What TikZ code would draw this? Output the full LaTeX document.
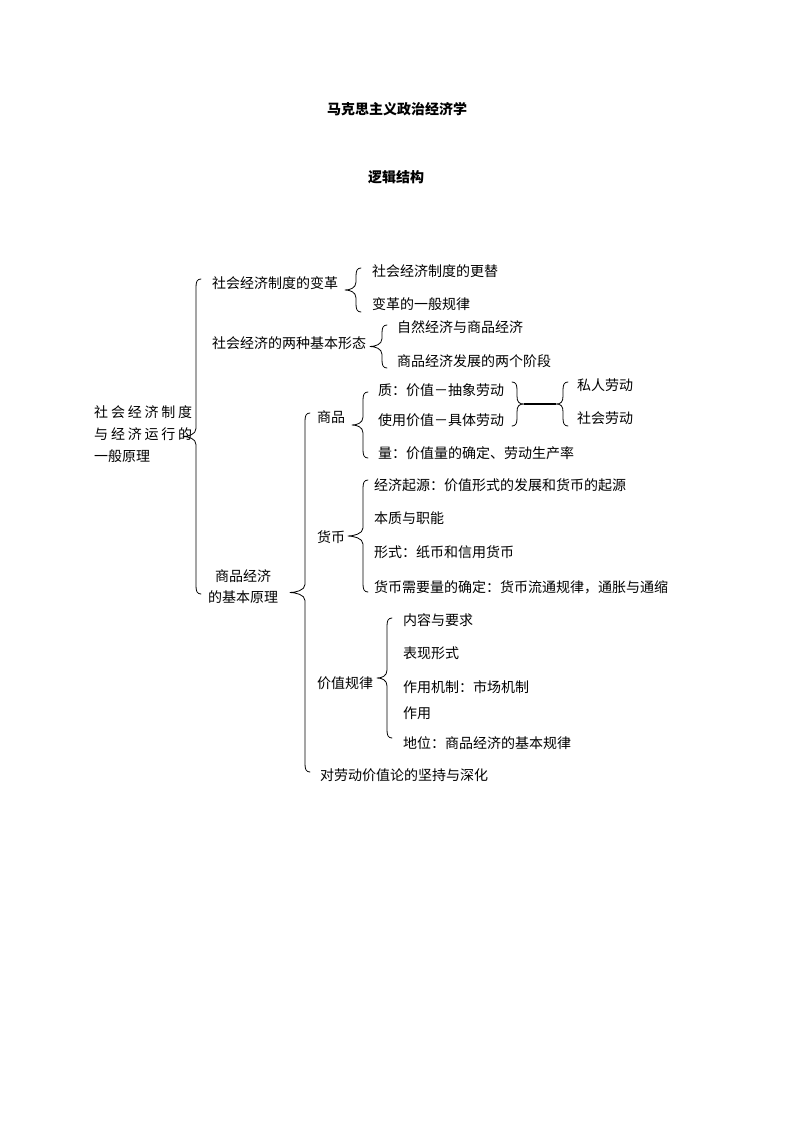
\documentclass[tikz,border=0pt]{standalone}
\usepackage{fontspec}
\setmainfont{Noto Sans CJK SC}
\newcommand\lbr[4]{% x, top, bottom, amplitude : left brace, tip pointing left
  \draw[bracestyle] (#1+5,#2) .. controls (#1+1,#2) and (#1,#2+3) .. (#1,#2+8) -- (#1,{(#2+#3)/2-8})
    .. controls (#1,{(#2+#3)/2-2}) and (#1-#4+5,{(#2+#3)/2}) .. (#1-#4,{(#2+#3)/2})
    .. controls (#1-#4+5,{(#2+#3)/2}) and (#1,{(#2+#3)/2+2}) .. (#1,{(#2+#3)/2+8}) -- (#1,#3-8)
    .. controls (#1,#3-3) and (#1+1,#3) .. (#1+5,#3);}
\newcommand\rbr[4]{% x, top, bottom, amplitude : right brace, tip pointing right
  \draw[bracestyle] (#1-5,#2) .. controls (#1-1,#2) and (#1,#2+3) .. (#1,#2+8) -- (#1,{(#2+#3)/2-8})
    .. controls (#1,{(#2+#3)/2-2}) and (#1+#4-5,{(#2+#3)/2}) .. (#1+#4,{(#2+#3)/2})
    .. controls (#1+#4-5,{(#2+#3)/2}) and (#1,{(#2+#3)/2+2}) .. (#1,{(#2+#3)/2+8}) -- (#1,#3-8)
    .. controls (#1,#3-3) and (#1-1,#3) .. (#1-5,#3);}
\begin{document}
\begin{tikzpicture}[x=1pt,y=-1pt,
  txt/.style={anchor=west,inner sep=0pt,font=\fontsize{14}{16}\selectfont},
  titlestyle/.style={inner sep=0pt,font=\fontsize{14}{16}\selectfont\bfseries},
  bracestyle/.style={line width=0.8pt,line cap=round,line join=round},
  linkstyle/.style={line width=1.6pt}]
\useasboundingbox[fill=white] (0,0) rectangle (793,1122);

\node[titlestyle] (t1) at (397,109) {马克思主义政治经济学};
\node[titlestyle] (t2) at (396,177) {逻辑结构};

\node[txt,align=left,font=\fontsize{14}{22}\selectfont] (root) at (94,434)
  {\makebox[98pt][s]{社\hfill 会\hfill 经\hfill 济\hfill 制\hfill 度}\\
   \makebox[98pt][s]{与\hfill 经\hfill 济\hfill 运\hfill 行\hfill 的}\\
   一般原理};
\lbr{196}{279}{594}{13}

\node[txt] (a1) at (212,283) {社会经济制度的变革};
\lbr{356}{268}{312}{11}
\node[txt] (a11) at (372,271) {社会经济制度的更替};
\node[txt] (a12) at (372,304) {变革的一般规律};

\node[txt] (a2) at (212,343) {社会经济的两种基本形态};
\lbr{382}{325}{368}{12}
\node[txt] (a21) at (397,327) {自然经济与商品经济};
\node[txt] (a22) at (397,361) {商品经济发展的两个阶段};

\node[txt,anchor=center,align=center,font=\fontsize{14}{21}\selectfont] (a3) at (243,587) {商品经济\\的基本原理};
\lbr{305}{413}{772}{15}

\node[txt] (b1) at (317,417) {商品};
\lbr{363}{392}{458}{11}
\node[txt] (b11) at (378,390) {质：价值－抽象劳动};
\node[txt] (b12) at (378,420) {使用价值－具体劳动};
\node[txt] (b13) at (378,453) {量：价值量的确定、劳动生产率};
\rbr{517}{382}{426}{7}
\draw[linkstyle] (524,404) -- (556,404);
\lbr{563}{382}{426}{7}
\node[txt] (c1) at (577,385) {私人劳动};
\node[txt] (c2) at (577,418) {社会劳动};

\node[txt] (b2) at (317,537) {货币};
\lbr{363}{480}{592}{15}
\node[txt] (b21) at (374,485) {经济起源：价值形式的发展和货币的起源};
\node[txt] (b22) at (374,518) {本质与职能};
\node[txt] (b23) at (374,552) {形式：纸币和信用货币};
\node[txt] (b24) at (374,587) {货币需要量的确定：货币流通规律，通胀与通缩};

\node[txt] (b3) at (317,683) {价值规律};
\lbr{387}{618}{738}{10}
\node[txt] (b31) at (403,620) {内容与要求};
\node[txt] (b32) at (403,653) {表现形式};
\node[txt] (b33) at (403,687) {作用机制：市场机制};
\node[txt] (b34) at (403,713) {作用};
\node[txt] (b35) at (403,743) {地位：商品经济的基本规律};

\node[txt] (b4) at (320,775) {对劳动价值论的坚持与深化};
\end{tikzpicture}
\end{document}
